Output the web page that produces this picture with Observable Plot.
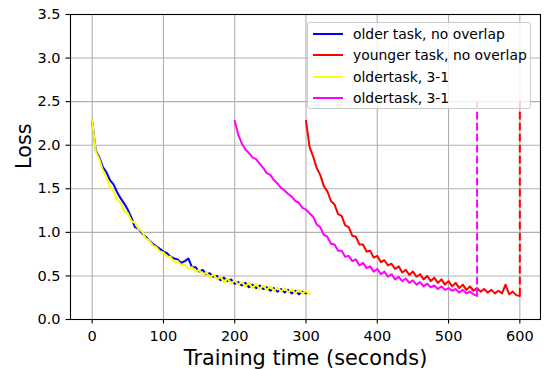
<!DOCTYPE html>
<html>
<head>
<meta charset="utf-8">
<script src="https://cdn.jsdelivr.net/npm/d3@7"></script>
<script src="https://cdn.jsdelivr.net/npm/@observablehq/plot@0.6"></script>
<style>
  html, body { margin: 0; padding: 0; background: #fff; }
  #wrap { position: relative; width: 545px; height: 369px; overflow: hidden; font-family: "DejaVu Sans", sans-serif; }
  #legend { position: absolute; left: 307px; top: 22px; width: 224px; height: 87px;
    background: rgba(255,255,255,0.8); border: 1px solid #cccccc; border-radius: 3px; box-sizing: border-box; }
  .row { position: absolute; left: 0; height: 20px; }
  .sw { position: absolute; left: 5px; width: 30px; height: 2px; }
  .lab { position: absolute; left: 45px; font-size: 13.9px; color: #000; white-space: nowrap; line-height: 20px; }
</style>
</head>
<body>
<div id="wrap"></div>
<script>
// ---- data ----
const timeOld = [0,5,10,15,20,25,30,35,40,45,50,55,60,65,70,75,80,85,90,95,100,105,110,115,120,125,130,135,140,145,150,155,160,165,170,175,180,185,190,195,200,205,210,215,220,225,230,235,240,245,250,255,260,265,270,275,280,285,290,295,300,305];
const olderNoOverlap = [2.28,1.94,1.86,1.75,1.69,1.60,1.55,1.46,1.39,1.33,1.26,1.17,1.06,1.04,0.99,0.95,0.91,0.87,0.84,0.81,0.78,0.76,0.72,0.70,0.69,0.65,0.67,0.70,0.60,0.60,0.55,0.57,0.52,0.53,0.49,0.50,0.45,0.48,0.44,0.46,0.41,0.43,0.39,0.42,0.37,0.40,0.36,0.39,0.35,0.37,0.33,0.36,0.32,0.35,0.31,0.34,0.30,0.33,0.29,0.32,0.30];
const olderOverlap = [2.28,1.93,1.84,1.71,1.63,1.52,1.47,1.37,1.34,1.24,1.22,1.13,1.11,1.04,1.01,0.93,0.91,0.85,0.83,0.78,0.77,0.72,0.72,0.66,0.67,0.62,0.63,0.58,0.60,0.55,0.57,0.51,0.54,0.48,0.52,0.46,0.49,0.43,0.47,0.41,0.45,0.40,0.43,0.38,0.42,0.36,0.41,0.35,0.39,0.34,0.38,0.33,0.37,0.32,0.36,0.31,0.35,0.30,0.34,0.30,0.33,0.29];
const timeMag = [200,205,210,215,220,225,230,235,240,245,250,255,260,265,270,275,280,285,290,295,300,305,310,315,320,325,330,335,340,345,350,355,360,365,370,375,380,385,390,395,400,405,410,415,420,425,430,435,440,445,450,455,460,465,470,475,480,485,490,495,500,505,510,515,520,525,530,535,540];
const olderOverlap2 = [2.28,2.12,2.02,1.95,1.91,1.86,1.84,1.79,1.74,1.68,1.66,1.60,1.56,1.51,1.48,1.44,1.41,1.36,1.34,1.28,1.26,1.22,1.18,1.09,1.06,0.97,0.95,0.87,0.86,0.79,0.79,0.72,0.73,0.67,0.69,0.62,0.65,0.59,0.61,0.55,0.58,0.52,0.55,0.49,0.52,0.46,0.49,0.44,0.47,0.42,0.45,0.40,0.43,0.38,0.41,0.37,0.39,0.35,0.38,0.34,0.36,0.33,0.35,0.31,0.34,0.30,0.32,0.29,0.27];
const timeRed = [300,305,310,315,320,325,330,335,340,345,350,355,360,365,370,375,380,385,390,395,400,405,410,415,420,425,430,435,440,445,450,455,460,465,470,475,480,485,490,495,500,505,510,515,520,525,530,535,540,545,550,555,560,565,570,575,580,585,590,595,600];
const youngerNoOverlap = [2.28,1.98,1.87,1.74,1.66,1.53,1.47,1.36,1.32,1.21,1.19,1.08,1.06,0.96,0.95,0.86,0.86,0.78,0.79,0.71,0.73,0.66,0.68,0.62,0.64,0.58,0.61,0.54,0.57,0.51,0.55,0.49,0.52,0.46,0.50,0.44,0.48,0.42,0.46,0.40,0.44,0.38,0.42,0.36,0.40,0.34,0.38,0.33,0.36,0.32,0.35,0.31,0.34,0.30,0.33,0.30,0.40,0.29,0.32,0.28,0.27];
const dashX = [540, 600];
const dashBottom = [0.27, 0.27];
const dashTop = [2.5, 2.5];
const dashColors = ["magenta", "red"];
const seriesNames = ["older task, no overlap", "younger task, no overlap", "oldertask, 3-1", "oldertask, 3-1"];
const seriesColors = ["blue", "red", "yellow", "magenta"];
const xTicks = [0,100,200,300,400,500,600];
const yTicks = [0,0.5,1.0,1.5,2.0,2.5,3.0,3.5];

const toRows = (times, vals) => vals.map((v, i) => ({t: times[i], v}));
const series = [
  toRows(timeOld, olderNoOverlap),
  toRows(timeRed, youngerNoOverlap),
  toRows(timeOld, olderOverlap),
  toRows(timeMag, olderOverlap2)
];
const dashes = dashX.map((x, i) => ({x, y1: dashBottom[i], y2: dashTop[i], c: dashColors[i]}));

const chart = Plot.plot({
  width: 545, height: 369,
  marginLeft: 70, marginRight: 5, marginTop: 14, marginBottom: 50,
  style: {fontFamily: "DejaVu Sans", fontSize: "14.5px", color: "#000", background: "#fff"},
  x: {domain: [-30.4, 629]},
  y: {domain: [0, 3.5]},
  marks: [
    Plot.gridX(xTicks, {stroke: "#b0b0b0", strokeOpacity: 1, strokeWidth: 1.1}),
    Plot.gridY(yTicks, {stroke: "#b0b0b0", strokeOpacity: 1, strokeWidth: 1.1}),
    ...series.map((d, i) => Plot.line(d, {x: "t", y: "v", stroke: seriesColors[i], strokeWidth: 2, strokeLinejoin: "round"})),
    Plot.ruleX(dashes, {x: "x", y1: "y1", y2: "y2", stroke: "c", strokeWidth: 2, strokeDasharray: "7.7,3.3"}),
    Plot.frame({stroke: "#000", strokeWidth: 1.1}),
    Plot.axisX(xTicks, {tickSize: 4.5, tickPadding: 6.5, label: null, tickFormat: d3.format("d"), strokeWidth: 1.1}),
    Plot.axisY(yTicks, {tickSize: 4.5, tickPadding: 5.5, label: null, tickFormat: d3.format(".1f"), strokeWidth: 1.1}),
    Plot.text(["Training time (seconds)"], {frameAnchor: "bottom", dy: 38.5, fontSize: 20.8, lineAnchor: "middle"}),
    Plot.text(["Loss"], {frameAnchor: "left", dx: -46, dy: 2, rotate: -90, fontSize: 20.8})
  ]
});

const wrap = document.getElementById("wrap");
wrap.appendChild(chart);

const legend = document.createElement("div");
legend.id = "legend";
const rowTops = [1, 22.3, 43.6, 65];
seriesNames.forEach((name, i) => {
  const row = document.createElement("div");
  row.className = "row";
  row.style.top = rowTops[i] + "px";
  const sw = document.createElement("div");
  sw.className = "sw";
  sw.style.background = seriesColors[i];
  sw.style.top = "9px";
  const lab = document.createElement("div");
  lab.className = "lab";
  lab.style.top = "0px";
  lab.textContent = name;
  row.appendChild(sw);
  row.appendChild(lab);
  legend.appendChild(row);
});
wrap.appendChild(legend);
</script>
</body>
</html>
